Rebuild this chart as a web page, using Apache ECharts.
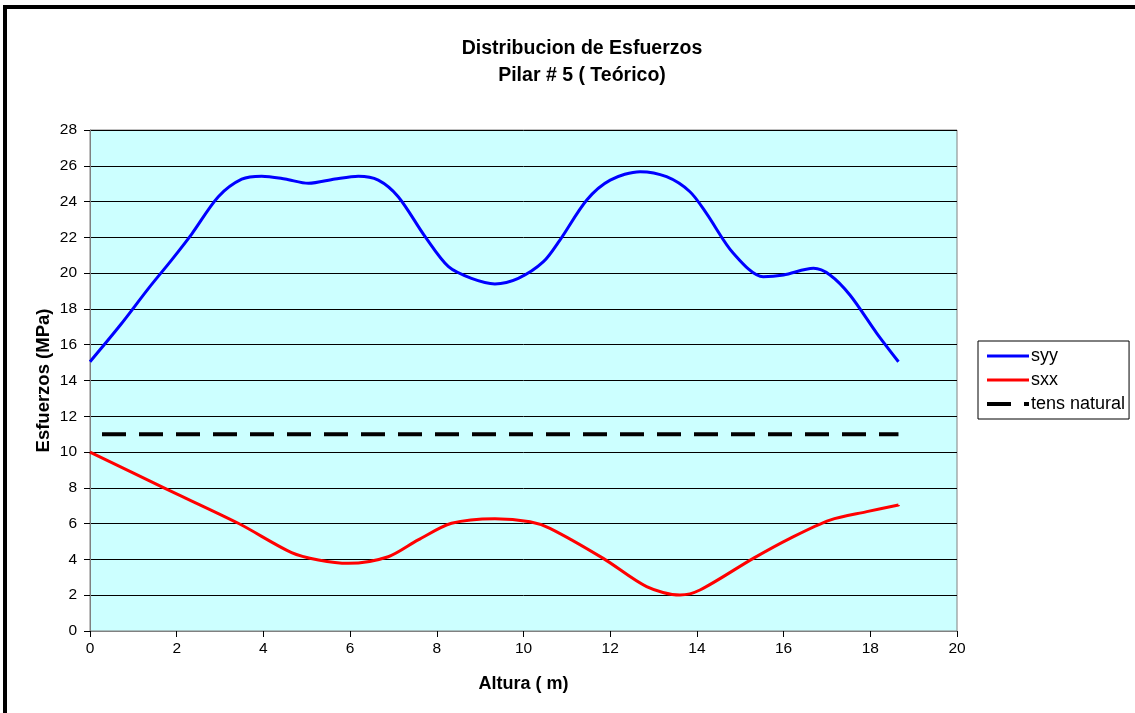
<!DOCTYPE html>
<html>
<head>
<meta charset="utf-8">
<style>
  html, body { margin: 0; padding: 0; background: #ffffff; }
  #chart { width: 1135px; height: 713px; }
</style>
<script src="https://cdn.jsdelivr.net/npm/echarts@6/dist/echarts.min.js"></script>
</head>
<body>
<div id="chart"></div>
<script>
// Stress profile along the pillar height: [altura (m), esfuerzo (MPa)]
const syyData = [
  [0, 15.05], [0.7, 17.1], [1.35, 19.15], [1.88, 20.73], [2.35, 22.2],
  [2.96, 24.27], [3.5, 25.25], [3.96, 25.42], [4.5, 25.26], [5.04, 25.02],
  [5.65, 25.26], [6.19, 25.42], [6.65, 25.2], [7.11, 24.27], [7.73, 22.04],
  [8.27, 20.36], [8.8, 19.71], [9.34, 19.4], [9.88, 19.71], [10.46, 20.64],
  [10.84, 21.85], [11.46, 24.09], [12.0, 25.2], [12.69, 25.67], [13.3, 25.39],
  [13.84, 24.55], [14.22, 23.34], [14.84, 21.11], [15.53, 19.8], [16.0, 19.9],
  [16.69, 20.27], [17.07, 19.9], [17.53, 18.78], [18.15, 16.64], [18.65, 15.05]
];
const sxxData = [
  [0, 10.0], [1.73, 7.97], [3.42, 6.02], [4.65, 4.38], [5.27, 3.97],
  [5.96, 3.78], [6.88, 4.15], [7.57, 5.09], [8.34, 6.02], [9.34, 6.28],
  [10.15, 6.11], [10.61, 5.74], [11.84, 4.06], [12.84, 2.48], [13.61, 2.01],
  [14.07, 2.29], [15.3, 4.06], [16.15, 5.18], [17.07, 6.2], [17.92, 6.67],
  [18.65, 7.04]
];
const tensNaturalData = [[0, 11], [18.65, 11]];

const seriesNames = ['syy', 'sxx', 'tens natural'];
const chartTitle = 'Distribucion de Esfuerzos\nPilar # 5 ( Teórico)';
const xAxisName = 'Altura ( m)';
const yAxisName = 'Esfuerzos (MPa)';

const FONT = 'Arial, "Liberation Sans", Helvetica, sans-serif';

const chart = echarts.init(document.getElementById('chart'), null, { renderer: 'canvas' });

chart.setOption({
  animation: false,
  backgroundColor: '#ffffff',
  graphic: [{
    type: 'rect',
    z: -10,
    shape: { x: 5, y: 7, width: 1400, height: 900 },
    style: { fill: 'none', stroke: '#000000', lineWidth: 4 },
    silent: true
  }],
  title: {
    text: chartTitle,
    left: 577,
    top: 30,
    textAlign: 'center',
    textStyle: {
      fontFamily: FONT,
      fontSize: 19.5,
      fontWeight: 'bold',
      color: '#000000',
      lineHeight: 27
    }
  },
  legend: {
    orient: 'vertical',
    left: 978,
    top: 341,
    padding: [6, 4, 6, 7],
    itemWidth: 42,
    itemHeight: 14,
    itemGap: 6,
    borderColor: '#000000',
    borderWidth: 1,
    backgroundColor: '#ffffff',
    itemStyle: { opacity: 0 },
    data: [
      { name: seriesNames[0], lineStyle: { width: 3 } },
      { name: seriesNames[1], lineStyle: { width: 3 } },
      { name: seriesNames[2], lineStyle: { width: 4, dashOffset: 0 } }
    ],
    textStyle: { fontFamily: FONT, fontSize: 18, color: '#000000', padding: [0, 0, 0, -3] }
  },
  grid: {
    left: 90,
    right: 178,
    top: 130,
    bottom: 82,
    show: true,
    backgroundColor: '#CCFFFF',
    borderColor: '#808080',
    borderWidth: 1
  },
  xAxis: {
    type: 'value',
    min: 0,
    max: 20,
    interval: 2,
    name: xAxisName,
    nameLocation: 'middle',
    nameGap: 44,
    nameMoveOverlap: false,
    nameTextStyle: { fontFamily: FONT, fontSize: 18, fontWeight: 'bold', color: '#000000' },
    axisLine: { show: true, lineStyle: { color: '#808080', width: 1 } },
    axisTick: { show: true, inside: false, length: 6, lineStyle: { color: '#000000' } },
    axisLabel: { fontFamily: FONT, fontSize: 15.5, color: '#000000', margin: 10 },
    splitLine: { show: false }
  },
  yAxis: {
    type: 'value',
    min: 0,
    max: 28,
    interval: 2,
    name: yAxisName,
    nameLocation: 'middle',
    nameGap: 37,
    nameMoveOverlap: false,
    nameTextStyle: { fontFamily: FONT, fontSize: 18.5, fontWeight: 'bold', color: '#000000' },
    axisLine: { show: true, lineStyle: { color: '#808080', width: 1 } },
    axisTick: { show: true, inside: false, length: 6, lineStyle: { color: '#000000' } },
    axisLabel: { fontFamily: FONT, fontSize: 15.5, color: '#000000', margin: 13 },
    splitLine: { show: true, lineStyle: { color: '#000000', width: 1 } }
  },
  series: [
    {
      name: seriesNames[0],
      type: 'line',
      data: syyData,
      smooth: 0.3,
      symbol: 'none',
      lineStyle: { color: '#0000FF', width: 3 },
      itemStyle: { color: '#0000FF' }
    },
    {
      name: seriesNames[1],
      type: 'line',
      data: sxxData,
      smooth: 0.3,
      symbol: 'none',
      lineStyle: { color: '#FF0000', width: 3 },
      itemStyle: { color: '#FF0000' }
    },
    {
      name: seriesNames[2],
      type: 'line',
      data: tensNaturalData,
      symbol: 'none',
      lineStyle: { color: '#000000', width: 4, type: [24, 13], dashOffset: 25 },
      itemStyle: { color: '#000000' }
    }
  ]
});
</script>
</body>
</html>
